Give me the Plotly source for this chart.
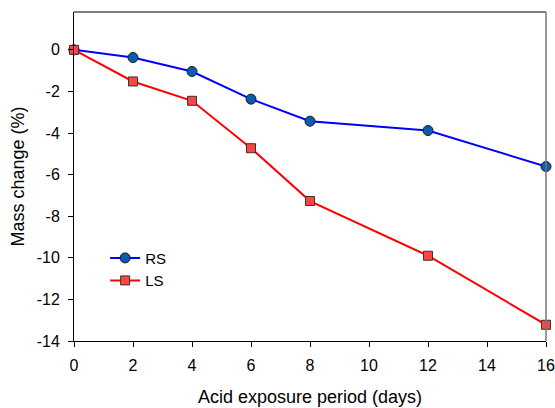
import plotly.graph_objects as go

days = [0, 2, 4, 6, 8, 12, 16]
rs_mass = [0, -0.37, -1.04, -2.37, -3.43, -3.88, -5.61]
ls_mass = [0, -1.52, -2.45, -4.73, -7.27, -9.9, -13.22]
x_ticks = [0, 2, 4, 6, 8, 10, 12, 14, 16]
y_ticks = [0, -2, -4, -6, -8, -10, -12, -14]
y_tick_text = ["0", "-2", "-4", "-6", "-8", "-10", "-12", "-14"]

fig = go.Figure()
fig.add_trace(go.Scatter(
    x=days, y=rs_mass, name="RS", mode="lines+markers",
    line=dict(color="#0000ff", width=2),
    marker=dict(symbol="circle", size=10, color="#0b5cad",
                line=dict(color="#1a1a1a", width=1)),
    cliponaxis=False,
))
fig.add_trace(go.Scatter(
    x=days, y=ls_mass, name="LS", mode="lines+markers",
    line=dict(color="#ff0000", width=2),
    marker=dict(symbol="square", size=9, color="#ff4444",
                line=dict(color="#333333", width=1)),
    cliponaxis=False,
))

font = "Liberation Sans, Arial, sans-serif"
fig.update_layout(
    width=555, height=408,
    margin=dict(l=74, r=9, t=12, b=67),
    paper_bgcolor="white", plot_bgcolor="white",
    font=dict(family=font, size=16, color="black"),
    showlegend=True,
    legend=dict(x=0.066, y=0.302, xanchor="left", yanchor="top",
                bgcolor="rgba(0,0,0,0)", font=dict(size=15),
                tracegroupgap=0, itemwidth=30),
    xaxis=dict(range=[0, 16], tickvals=x_ticks, ticks="outside", ticklen=5,
               tickwidth=1, tickcolor="black", showline=True, linecolor="black",
               linewidth=1, showgrid=False, zeroline=False, automargin=False,
               tickfont=dict(size=16), ticklabelstandoff=5,
               title=dict(text="Acid exposure period (days)", font=dict(size=18), standoff=17)),
    yaxis=dict(range=[-14, 1.82], tickvals=y_ticks, ticktext=y_tick_text,
               ticks="outside", ticklen=5,
               tickwidth=1, tickcolor="black", showline=True, linecolor="black",
               linewidth=1, showgrid=False, zeroline=False, automargin=False,
               tickfont=dict(size=16), ticklabelstandoff=5,
               title=dict(text="Mass change (%)", font=dict(size=18), standoff=7)),
    shapes=[
        dict(type="line", xref="paper", yref="paper", x0=0, x1=1, y0=1, y1=1,
             line=dict(color="black", width=1)),
        dict(type="line", xref="paper", yref="paper", x0=1, x1=1, y0=0, y1=1,
             line=dict(color="#777777", width=1.5)),
    ],
)

fig.write_html("out.html")
